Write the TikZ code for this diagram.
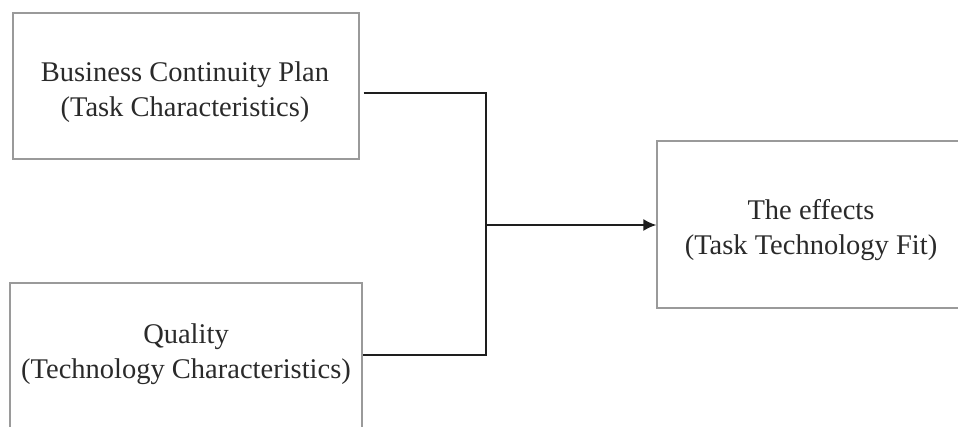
\documentclass[tikz,border=0pt]{standalone}
\usepackage{fontspec}
\setmainfont{Liberation Serif}
\usetikzlibrary{arrows.meta}
\definecolor{boxgray}{HTML}{9A9A9A}
\definecolor{lineblack}{HTML}{1E1E1E}
\definecolor{txt}{HTML}{2A2A2A}
\begin{document}
\begin{tikzpicture}[x=1pt,y=-1pt,
  box/.style={draw=boxgray, line width=1.3pt, inner sep=0pt},
  lbl/.style={inner sep=0pt, text=txt, align=center, font=\fontsize{28.5}{35}\selectfont},
  conn/.style={draw=lineblack, line width=1.8pt}]
\useasboundingbox[fill=white] (0,0) rectangle (958,427);
\clip (0,0) rectangle (958,427);
\node[box, minimum width=346pt, minimum height=146pt] (bcp) at (186,86) {};
\node[lbl] (bcpt) at (185,92) {Business Continuity Plan\\(Task Characteristics)};
\node[box, minimum width=352pt, minimum height=162pt] (q) at (186,364) {};
\node[lbl] (qt) at (186,354) {Quality\\(Technology Characteristics)};
\node[box, minimum width=305pt, minimum height=167pt] (eff) at (809.5,224.5) {};
\node[lbl] (efft) at (811,230.5) {The effects\\(Task Technology Fit)};
\coordinate (jt) at (486,93);
\coordinate (jb) at (486,355);
\coordinate (j) at (486,225);
\draw[conn] ([xshift=4pt]bcp.east |- jt) -- (jt) -- (jb) -- (q.east |- jb);
\draw[conn, -{Latex[length=13pt,width=12pt]}] (j) -- (eff.west |- j);
\end{tikzpicture}
\end{document}
